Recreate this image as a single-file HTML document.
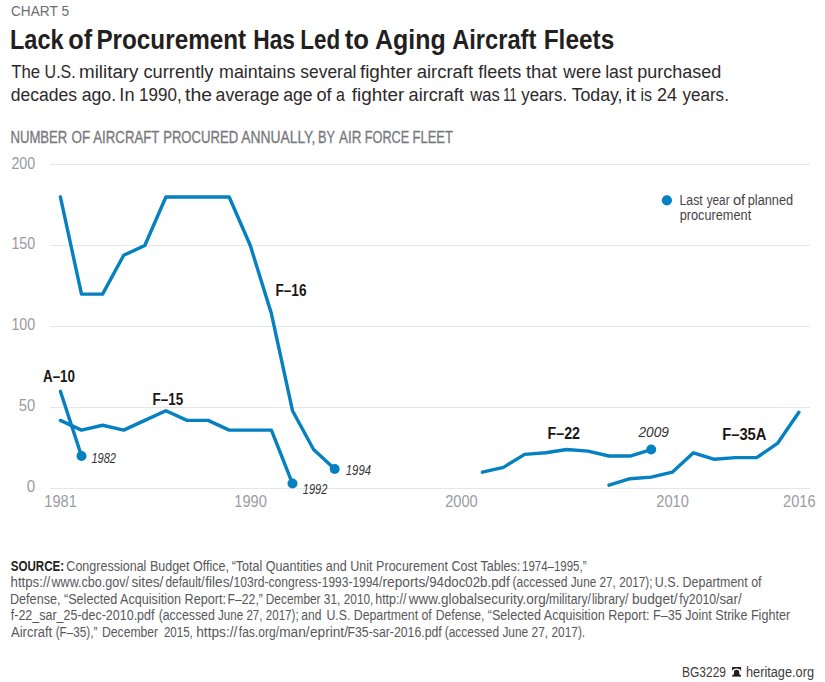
<!DOCTYPE html>
<html><head><meta charset="utf-8">
<style>
html,body{margin:0;padding:0;background:#fff;}
body{width:825px;height:682px;overflow:hidden;position:relative;}
svg{position:absolute;left:0;top:0;}
text{font-family:"Liberation Sans",sans-serif;}
</style></head><body>
<svg width="825" height="682" viewBox="0 0 825 682">
<text x="11" y="16" font-size="14" fill="#6d6e71" textLength="58" lengthAdjust="spacingAndGlyphs">CHART 5</text>
<g font-size="27.8" font-weight="bold" fill="#231f20">
<text x="9.97" y="49" textLength="53.61" lengthAdjust="spacingAndGlyphs">Lack</text>
<text x="68.19" y="49" textLength="23.88" lengthAdjust="spacingAndGlyphs">of</text>
<text x="96.42" y="49" textLength="149.71" lengthAdjust="spacingAndGlyphs">Procurement</text>
<text x="253.22" y="49" textLength="41.78" lengthAdjust="spacingAndGlyphs">Has</text>
<text x="300.34" y="49" textLength="39.88" lengthAdjust="spacingAndGlyphs">Led</text>
<text x="344.74" y="49" textLength="24.26" lengthAdjust="spacingAndGlyphs">to</text>
<text x="374.98" y="49" textLength="70.71" lengthAdjust="spacingAndGlyphs">Aging</text>
<text x="452.21" y="49" textLength="84.07" lengthAdjust="spacingAndGlyphs">Aircraft</text>
<text x="543.71" y="49" textLength="70.57" lengthAdjust="spacingAndGlyphs">Fleets</text>
</g>
<g font-size="18.8" fill="#2d2a2b">
<text x="11.16" y="78" textLength="28.95" lengthAdjust="spacingAndGlyphs">The</text>
<text x="44.60" y="78" textLength="31.12" lengthAdjust="spacingAndGlyphs">U.S.</text>
<text x="78.98" y="78" textLength="59.55" lengthAdjust="spacingAndGlyphs">military</text>
<text x="143.47" y="78" textLength="70.02" lengthAdjust="spacingAndGlyphs">currently</text>
<text x="219.04" y="78" textLength="76.38" lengthAdjust="spacingAndGlyphs">maintains</text>
<text x="300.28" y="78" textLength="56.22" lengthAdjust="spacingAndGlyphs">several</text>
<text x="359.92" y="78" textLength="52.45" lengthAdjust="spacingAndGlyphs">fighter</text>
<text x="416.76" y="78" textLength="56.35" lengthAdjust="spacingAndGlyphs">aircraft</text>
<text x="478.23" y="78" textLength="43.10" lengthAdjust="spacingAndGlyphs">fleets</text>
<text x="525.92" y="78" textLength="30.93" lengthAdjust="spacingAndGlyphs">that</text>
<text x="563.30" y="78" textLength="37.83" lengthAdjust="spacingAndGlyphs">were</text>
<text x="605.15" y="78" textLength="27.46" lengthAdjust="spacingAndGlyphs">last</text>
<text x="637.33" y="78" textLength="84.04" lengthAdjust="spacingAndGlyphs">purchased</text>
<text x="10.80" y="100.9" textLength="66.23" lengthAdjust="spacingAndGlyphs">decades</text>
<text x="81.69" y="100.9" textLength="34.42" lengthAdjust="spacingAndGlyphs">ago.</text>
<text x="119.36" y="100.9" textLength="15.21" lengthAdjust="spacingAndGlyphs">In</text>
<text x="139.12" y="100.9" textLength="42.56" lengthAdjust="spacingAndGlyphs">1990,</text>
<text x="185.01" y="100.9" textLength="27.07" lengthAdjust="spacingAndGlyphs">the</text>
<text x="215.60" y="100.9" textLength="63.68" lengthAdjust="spacingAndGlyphs">average</text>
<text x="283.20" y="100.9" textLength="29.36" lengthAdjust="spacingAndGlyphs">age</text>
<text x="316.48" y="100.9" textLength="15.11" lengthAdjust="spacingAndGlyphs">of</text>
<text x="336.10" y="100.9" textLength="8.89" lengthAdjust="spacingAndGlyphs">a</text>
<text x="351.72" y="100.9" textLength="52.45" lengthAdjust="spacingAndGlyphs">fighter</text>
<text x="408.58" y="100.9" textLength="55.24" lengthAdjust="spacingAndGlyphs">aircraft</text>
<text x="470.30" y="100.9" textLength="29.45" lengthAdjust="spacingAndGlyphs">was</text>
<text x="503.29" y="100.9" textLength="13.27" lengthAdjust="spacingAndGlyphs">11</text>
<text x="521.22" y="100.9" textLength="45.85" lengthAdjust="spacingAndGlyphs">years.</text>
<text x="571.65" y="100.9" textLength="50.90" lengthAdjust="spacingAndGlyphs">Today,</text>
<text x="625.67" y="100.9" textLength="10.24" lengthAdjust="spacingAndGlyphs">it</text>
<text x="640.56" y="100.9" textLength="11.54" lengthAdjust="spacingAndGlyphs">is</text>
<text x="657.10" y="100.9" textLength="19.98" lengthAdjust="spacingAndGlyphs">24</text>
<text x="682.41" y="100.9" textLength="46.48" lengthAdjust="spacingAndGlyphs">years.</text>
</g>
<g font-size="15.9" fill="#77787b" stroke="#77787b" stroke-width="0.3">
<text x="10.45" y="142.6" textLength="56.89" lengthAdjust="spacingAndGlyphs">NUMBER</text>
<text x="71.49" y="142.6" textLength="18.73" lengthAdjust="spacingAndGlyphs">OF</text>
<text x="93.30" y="142.6" textLength="66.17" lengthAdjust="spacingAndGlyphs">AIRCRAFT</text>
<text x="163.15" y="142.6" textLength="75.08" lengthAdjust="spacingAndGlyphs">PROCURED</text>
<text x="241.20" y="142.6" textLength="74.24" lengthAdjust="spacingAndGlyphs">ANNUALLY,</text>
<text x="318.08" y="142.6" textLength="17.03" lengthAdjust="spacingAndGlyphs">BY</text>
<text x="339.10" y="142.6" textLength="22.43" lengthAdjust="spacingAndGlyphs">AIR</text>
<text x="364.78" y="142.6" textLength="44.53" lengthAdjust="spacingAndGlyphs">FORCE</text>
<text x="412.56" y="142.6" textLength="40.42" lengthAdjust="spacingAndGlyphs">FLEET</text>
</g>
<g stroke="#e6e6e6" stroke-width="1.2"><line x1="50" x2="810" y1="164.5" y2="164.5"/><line x1="50" x2="810" y1="245.5" y2="245.5"/><line x1="50" x2="810" y1="326.5" y2="326.5"/><line x1="50" x2="810" y1="407.5" y2="407.5"/><line x1="50" x2="810" y1="488.5" y2="488.5"/></g>
<g font-size="16" fill="#9a9c9f" text-anchor="end">
<text x="35.2" y="168.6" textLength="23.8" lengthAdjust="spacingAndGlyphs">200</text>
<text x="35.2" y="249.4" textLength="23.8" lengthAdjust="spacingAndGlyphs">150</text>
<text x="35.2" y="330.4" textLength="23.8" lengthAdjust="spacingAndGlyphs">100</text>
<text x="35.2" y="411.4" textLength="16.4" lengthAdjust="spacingAndGlyphs">50</text>
<text x="35.2" y="492.2" textLength="8.4" lengthAdjust="spacingAndGlyphs">0</text>
</g>
<g font-size="16" fill="#9a9c9f" text-anchor="middle">
<text x="60.5" y="507.2" textLength="32.5" lengthAdjust="spacingAndGlyphs">1981</text>
<text x="250.5" y="507.2" textLength="32.5" lengthAdjust="spacingAndGlyphs">1990</text>
<text x="461.4" y="507.2" textLength="32.5" lengthAdjust="spacingAndGlyphs">2000</text>
<text x="672.6" y="507.2" textLength="32.5" lengthAdjust="spacingAndGlyphs">2010</text>
<text x="799.3" y="507.2" textLength="32.5" lengthAdjust="spacingAndGlyphs">2016</text>
</g>
<g fill="none" stroke="#0580c0" stroke-width="3.4" stroke-linejoin="round" stroke-linecap="round">
<path d="M60.40,420.40 L81.50,430.12 L102.60,425.26 L123.70,430.12 L144.80,420.40 L165.90,410.69 L187.00,420.40 L208.10,420.40 L229.20,430.12 L250.30,430.12 L271.40,430.12 L292.50,483.54"/>
<path d="M60.40,391.26 L81.50,456.02"/>
<path d="M60.40,196.98 L81.50,294.12 L102.60,294.12 L123.70,255.26 L144.80,245.55 L165.90,196.98 L187.00,196.98 L208.10,196.98 L229.20,196.98 L250.30,245.55 L271.40,313.55 L292.50,410.69 L313.60,449.54 L334.70,468.97"/>
<path d="M482.40,472.21 L503.50,467.35 L524.60,454.40 L545.70,452.78 L566.80,449.54 L587.90,451.16 L609.00,456.02 L630.10,456.02 L651.20,449.54"/>
<path d="M609.00,485.16 L630.10,478.69 L651.20,477.07 L672.30,472.21 L693.40,452.78 L714.50,459.26 L735.60,457.64 L756.70,457.64 L777.80,443.07 L798.90,412.31"/>
</g>
<g fill="#0580c0"><circle cx="81.50" cy="456.02" r="5"/><circle cx="292.50" cy="483.54" r="5"/><circle cx="334.70" cy="468.97" r="5"/><circle cx="651.20" cy="449.54" r="5"/></g>
<g font-size="16" font-weight="bold" fill="#1a1718">
<text x="43" y="381.7" textLength="32" lengthAdjust="spacingAndGlyphs">A–10</text>
<text x="152.6" y="405.2" textLength="30.5" lengthAdjust="spacingAndGlyphs">F–15</text>
<text x="275.5" y="296.2" textLength="31" lengthAdjust="spacingAndGlyphs">F–16</text>
<text x="547.5" y="438.7" textLength="32.5" lengthAdjust="spacingAndGlyphs">F–22</text>
<text x="722.2" y="440" textLength="44.3" lengthAdjust="spacingAndGlyphs">F–35A</text>
</g>
<g font-size="14.2" font-style="italic" fill="#363435">
<text x="91.5" y="463" textLength="24.5" lengthAdjust="spacingAndGlyphs">1982</text>
<text x="302.8" y="493.5" textLength="24.5" lengthAdjust="spacingAndGlyphs">1992</text>
<text x="345.8" y="475" textLength="25.2" lengthAdjust="spacingAndGlyphs">1994</text>
<text x="638.5" y="437" textLength="30.5" lengthAdjust="spacingAndGlyphs">2009</text>
</g>
<circle cx="666.9" cy="200.3" r="5.1" fill="#0580c0"/>
<g font-size="14" fill="#464446">
<text x="679.52" y="205" textLength="23.21" lengthAdjust="spacingAndGlyphs">Last</text>
<text x="706.74" y="205" textLength="22.80" lengthAdjust="spacingAndGlyphs">year</text>
<text x="732.91" y="205" textLength="12.27" lengthAdjust="spacingAndGlyphs">of</text>
<text x="747.77" y="205" textLength="45.35" lengthAdjust="spacingAndGlyphs">planned</text>
<text x="679.67" y="220" textLength="71.54" lengthAdjust="spacingAndGlyphs">procurement</text>
</g>
<g font-size="14" fill="#58585a">
<text x="10.65" y="571" textLength="53.47" lengthAdjust="spacingAndGlyphs" font-weight="bold" fill="#231f20">SOURCE:</text>
<text x="66.37" y="571" textLength="162.65" lengthAdjust="spacingAndGlyphs">Congressional Budget Office,</text>
<text x="231.66" y="571" textLength="288.61" lengthAdjust="spacingAndGlyphs">“Total Quantities and Unit Procurement Cost Tables:</text>
<text x="522.04" y="571" textLength="64.48" lengthAdjust="spacingAndGlyphs">1974–1995,”</text>
<text x="10.57" y="587.3" textLength="39.68" lengthAdjust="spacingAndGlyphs">https://</text>
<text x="51.50" y="587.3" textLength="77.49" lengthAdjust="spacingAndGlyphs">www.cbo.gov/</text>
<text x="131.43" y="587.3" textLength="32.02" lengthAdjust="spacingAndGlyphs">sites/</text>
<text x="165.53" y="587.3" textLength="38.92" lengthAdjust="spacingAndGlyphs">default/</text>
<text x="205.17" y="587.3" textLength="28.21" lengthAdjust="spacingAndGlyphs">files/</text>
<text x="233.49" y="587.3" textLength="88.01" lengthAdjust="spacingAndGlyphs">103rd-congress-</text>
<text x="321.80" y="587.3" textLength="60.50" lengthAdjust="spacingAndGlyphs">1993-1994/</text>
<text x="382.55" y="587.3" textLength="46.51" lengthAdjust="spacingAndGlyphs">reports/</text>
<text x="429.20" y="587.3" textLength="80.45" lengthAdjust="spacingAndGlyphs">94doc02b.pdf</text>
<text x="512.58" y="587.3" textLength="54.94" lengthAdjust="spacingAndGlyphs">(accessed</text>
<text x="570.72" y="587.3" textLength="81.83" lengthAdjust="spacingAndGlyphs">June 27, 2017);</text>
<text x="654.86" y="587.3" textLength="106.73" lengthAdjust="spacingAndGlyphs">U.S. Department of</text>
<text x="9.99" y="603.5" textLength="215.96" lengthAdjust="spacingAndGlyphs">Defense, “Selected Acquisition Report:</text>
<text x="227.52" y="603.5" textLength="35.37" lengthAdjust="spacingAndGlyphs">F–22,”</text>
<text x="265.75" y="603.5" textLength="107.68" lengthAdjust="spacingAndGlyphs">December 31, 2010,</text>
<text x="375.23" y="603.5" textLength="31.13" lengthAdjust="spacingAndGlyphs">http://</text>
<text x="408.80" y="603.5" textLength="140.64" lengthAdjust="spacingAndGlyphs">www.globalsecurity.org/</text>
<text x="549.01" y="603.5" textLength="41.99" lengthAdjust="spacingAndGlyphs">military/</text>
<text x="591.91" y="603.5" textLength="36.54" lengthAdjust="spacingAndGlyphs">library/</text>
<text x="631.89" y="603.5" textLength="45.78" lengthAdjust="spacingAndGlyphs">budget/</text>
<text x="679.32" y="603.5" textLength="40.13" lengthAdjust="spacingAndGlyphs">fy2010/</text>
<text x="719.40" y="603.5" textLength="22.26" lengthAdjust="spacingAndGlyphs">sar/</text>
<text x="10.81" y="620" textLength="143.66" lengthAdjust="spacingAndGlyphs">f-22_sar_25-dec-2010.pdf</text>
<text x="158.66" y="620" textLength="56.07" lengthAdjust="spacingAndGlyphs">(accessed</text>
<text x="218.03" y="620" textLength="80.62" lengthAdjust="spacingAndGlyphs">June 27, 2017);</text>
<text x="301.32" y="620" textLength="20.11" lengthAdjust="spacingAndGlyphs">and</text>
<text x="326.38" y="620" textLength="105.41" lengthAdjust="spacingAndGlyphs">U.S. Department of</text>
<text x="435.73" y="620" textLength="48.64" lengthAdjust="spacingAndGlyphs">Defense,</text>
<text x="487.76" y="620" textLength="302.36" lengthAdjust="spacingAndGlyphs">“Selected Acquisition Report: F–35 Joint Strike Fighter</text>
<text x="11.00" y="636.5" textLength="41.19" lengthAdjust="spacingAndGlyphs">Aircraft</text>
<text x="55.70" y="636.5" textLength="41.73" lengthAdjust="spacingAndGlyphs">(F–35),”</text>
<text x="102.03" y="636.5" textLength="56.09" lengthAdjust="spacingAndGlyphs">December</text>
<text x="163.92" y="636.5" textLength="28.89" lengthAdjust="spacingAndGlyphs">2015,</text>
<text x="196.21" y="636.5" textLength="41.18" lengthAdjust="spacingAndGlyphs">https://</text>
<text x="238.82" y="636.5" textLength="40.18" lengthAdjust="spacingAndGlyphs">fas.org/</text>
<text x="279.14" y="636.5" textLength="30.50" lengthAdjust="spacingAndGlyphs">man/</text>
<text x="309.95" y="636.5" textLength="38.04" lengthAdjust="spacingAndGlyphs">eprint/</text>
<text x="347.52" y="636.5" textLength="94.24" lengthAdjust="spacingAndGlyphs">F35-sar-2016.pdf</text>
<text x="444.79" y="636.5" textLength="140.39" lengthAdjust="spacingAndGlyphs">(accessed June 27, 2017).</text>
</g>
<g font-size="14" fill="#3d3b3c">
<text x="682" y="676.7" textLength="44" lengthAdjust="spacingAndGlyphs">BG3229</text>
<text x="746" y="676.7" textLength="68" lengthAdjust="spacingAndGlyphs">heritage.org</text>
</g>
<g fill="#231f20">
<path d="M732.1,667 H741.1 V671.2 C740.6,669.5 739,668.5 736.6,668.5 C734.2,668.5 732.6,669.5 732.1,671.2 Z"/>
<path d="M732.6,675.6 C733.6,674.9 733.9,673.8 734,672.5 L734,671.9 C734,670.5 735,669.8 736.6,669.8 C738.2,669.8 739.2,670.5 739.2,671.9 L739.2,672.5 C739.3,673.8 739.6,674.9 740.6,675.6 Z"/>
<rect x="732.2" y="675" width="8.8" height="1.6"/>
</g>
</svg>
</body></html>
